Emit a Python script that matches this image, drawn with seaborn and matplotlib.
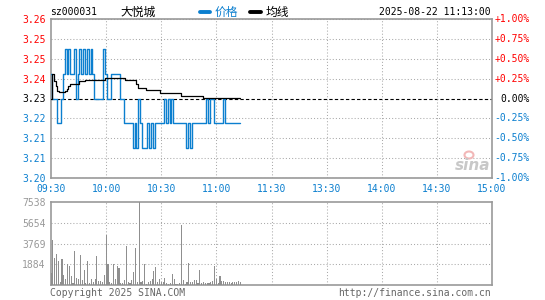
import numpy as np
import pandas as pd
import matplotlib
matplotlib.use('Agg')
import matplotlib.pyplot as plt
from matplotlib.lines import Line2D
from matplotlib.patches import Ellipse
import seaborn as sns

sns.set_theme(style='white')
plt.rcParams['font.family'] = ['DejaVu Sans Mono', 'Noto Sans CJK SC']

# ---- data ----------------------------------------------------------------
code = 'sz000031'
name = '大悦城'
stamp = '2025-08-22 11:13:00'
prev_close = 3.23

# one value per minute, 09:30 .. 11:13
price = [3.24, 3.23, 3.23, 3.23, 3.22, 3.22, 3.23, 3.24, 3.25, 3.24,
         3.25, 3.24, 3.24, 3.25, 3.23, 3.24, 3.25, 3.24, 3.25, 3.24,
         3.25, 3.24, 3.25, 3.24, 3.23, 3.23, 3.23, 3.23, 3.23, 3.25,
         3.24, 3.23, 3.23, 3.24, 3.24, 3.24, 3.24, 3.24, 3.23, 3.23,
         3.22, 3.22, 3.22, 3.22, 3.22, 3.21, 3.22, 3.21, 3.23, 3.22,
         3.21, 3.21, 3.21, 3.22, 3.21, 3.22, 3.21, 3.22, 3.22, 3.22,
         3.22, 3.22, 3.23, 3.22, 3.23, 3.22, 3.23, 3.22, 3.22, 3.22,
         3.22, 3.22, 3.22, 3.22, 3.21, 3.22, 3.21, 3.22, 3.22, 3.22,
         3.22, 3.22, 3.22, 3.22, 3.22, 3.23, 3.22, 3.23, 3.23, 3.22,
         3.22, 3.22, 3.22, 3.22, 3.23, 3.22, 3.22, 3.22, 3.22, 3.22,
         3.22, 3.22, 3.22, 3.22]

avg = ([3.230, 3.240, 3.237, 3.235, 3.233, 3.2325, 3.2325, 3.2325, 3.233, 3.234, 3.235]
       + [3.236] * 5 + [3.237] * 3 + [3.2375] * 11 + [3.2382] * 11
       + [3.2375] * 6 + [3.236] + [3.2341] * 4 + [3.2335] * 8
       + [3.2321] * 11 + [3.2311] * 12 + [3.2301] * 21)

volume = [1060, 4070, 2470, 2770, 2170, 240, 2350, 900, 540, 1870,
          1750, 810, 150, 3080, 660, 540, 2710, 450, 1360, 150,
          2170, 150, 540, 240, 540, 2620, 360, 360, 240, 900,
          4520, 1870, 240, 150, 1870, 540, 1720, 1570, 150, 150,
          450, 3530, 240, 150, 450, 1150, 3380, 240, 7538, 240,
          360, 1870, 60, 240, 360, 540, 1270, 1630, 240, 540,
          240, 240, 660, 150, 60, 150, 1000, 540, 90, 90,
          150, 5430, 450, 90, 240, 1960, 240, 240, 450, 450,
          150, 1360, 150, 240, 150, 150, 150, 240, 360, 1750,
          540, 150, 840, 360, 360, 240, 240, 240, 150, 240,
          240, 240, 360, 240]

time_labels = ['09:30', '10:00', '10:30', '11:00', '11:30',
               '13:30', '14:00', '14:30', '15:00']
pct_ticks = [-1.00, -0.75, -0.50, -0.25, 0.00, 0.25, 0.50, 0.75, 1.00]
vol_ticks = [1884, 3769, 5654, 7538]

df = pd.DataFrame({'minute': np.arange(len(price)), 'price': price,
                   'avg': avg, 'volume': volume})

blue = '#0b7fcf'
red = '#ff0000'
grey = '#999999'

fig = plt.figure(figsize=(5.45, 3.0), dpi=100)
ax = fig.add_axes([51/545, 1-178/300, 441/545, 159/300])
axv = fig.add_axes([51/545, 1-285/300, 441/545, 83/300])

# ---- price panel ----------------------------------------------------------
levels = [prev_close * (1 + p / 100) for p in pct_ticks]
xt = np.arange(0, 241, 30)

for lv, p in zip(levels, pct_ticks):
    if p == 0:
        ax.axhline(lv, color='black', lw=0.8, ls=(0, (3, 2)), zorder=1)
    else:
        ax.axhline(lv, color='#aaaaaa', lw=0.75, ls=(0, (1, 2)), zorder=1)
for x in xt[1:-1]:
    ax.axvline(x, color='#aaaaaa', lw=0.75, ls=(0, (1, 2)), zorder=1)

sns.lineplot(data=df, x='minute', y='price', ax=ax, color=blue, lw=1.0,
             drawstyle='steps-mid', zorder=3)
sns.lineplot(data=df, x='minute', y='avg', ax=ax, color='black', lw=0.9,
             drawstyle='steps-mid', zorder=4)

ax.set_xlim(0, 240)
ax.set_ylim(levels[0], levels[-1])
ax.set_xticks(xt)
ax.set_xticklabels(time_labels, color=blue, fontsize=7)
ax.set_yticks(levels)
ax.set_yticklabels([f'{v:.2f}' for v in levels], fontsize=7)
for lab, p in zip(ax.get_yticklabels(), pct_ticks):
    lab.set_color(red if p > 0 else ('black' if p == 0 else blue))
ax.tick_params(length=0, pad=4)
ax.set_xlabel('')
ax.set_ylabel('')

# percent labels on the right
tr = ax.get_yaxis_transform()
for lv, p in zip(levels, pct_ticks):
    txt = '0.00%' if p == 0 else f'{p:+.2f}%'
    col = red if p > 0 else ('black' if p == 0 else blue)
    ax.text(1.086, lv, txt, transform=tr, ha='right', va='center',
            fontsize=7, color=col)

for sp in ax.spines.values():
    sp.set_color(grey)
    sp.set_linewidth(1.2)

# ---- volume panel ---------------------------------------------------------
for v in vol_ticks[:-1]:
    axv.axhline(v, color='#aaaaaa', lw=0.75, ls=(0, (1, 2)), zorder=1)
for x in xt[1:-1]:
    axv.axvline(x, color='#aaaaaa', lw=0.75, ls=(0, (1, 2)), zorder=1)
axv.bar(df['minute'], df['volume'], width=0.6, color='#8f8f8f', linewidth=0,
        zorder=3)
axv.set_xlim(0, 240)
axv.set_ylim(0, vol_ticks[-1])
axv.set_xticks(xt)
axv.set_xticklabels([])
axv.set_yticks(vol_ticks)
axv.set_yticklabels([str(v) for v in vol_ticks], fontsize=7, color=grey)
axv.tick_params(length=0, pad=4)
for sp in axv.spines.values():
    sp.set_color(grey)
    sp.set_linewidth(1.2)

# ---- header / footer ------------------------------------------------------
y_head = 1 - 12/300
fig.text(50/545, y_head, code, fontsize=7, va='center', color='black')
fig.text(120/545, y_head, name, fontsize=8.5, va='center', color='black',
         family=['Noto Sans CJK SC', 'DejaVu Sans'])
fig.add_artist(Line2D([200/545, 210/545], [y_head, y_head], color=blue, lw=2.8))
fig.text(215/545, y_head, '价格', fontsize=8.5, va='center', color=blue,
         family=['Noto Sans CJK SC', 'DejaVu Sans'])
fig.add_artist(Line2D([250/545, 261/545], [y_head, y_head], color='black', lw=2.8))
fig.text(266/545, y_head, '均线', fontsize=8.5, va='center', color='black',
         family=['Noto Sans CJK SC', 'DejaVu Sans'])
fig.text(491/545, y_head, stamp, fontsize=7, va='center', ha='right',
         color='black')

# faint sina watermark
fig.add_artist(Ellipse((469/545, 1-155/300), 9/545, 7/300, facecolor='none',
                       edgecolor='#f2b8b8', lw=1.5))
fig.text(473/545, 1-165/300, 'sina', fontsize=11, style='italic',
         weight='bold', color='#c8c8c8', ha='center', va='center',
         family='DejaVu Sans')

fig.text(50/545, 1-292.5/300, 'Copyright 2025 SINA.COM', fontsize=7,
         va='center', color='#666666')
fig.text(491/545, 1-292.5/300, 'http://finance.sina.com.cn', fontsize=7,
         va='center', ha='right', color='#666666')

fig.savefig('out.png', dpi=100)
